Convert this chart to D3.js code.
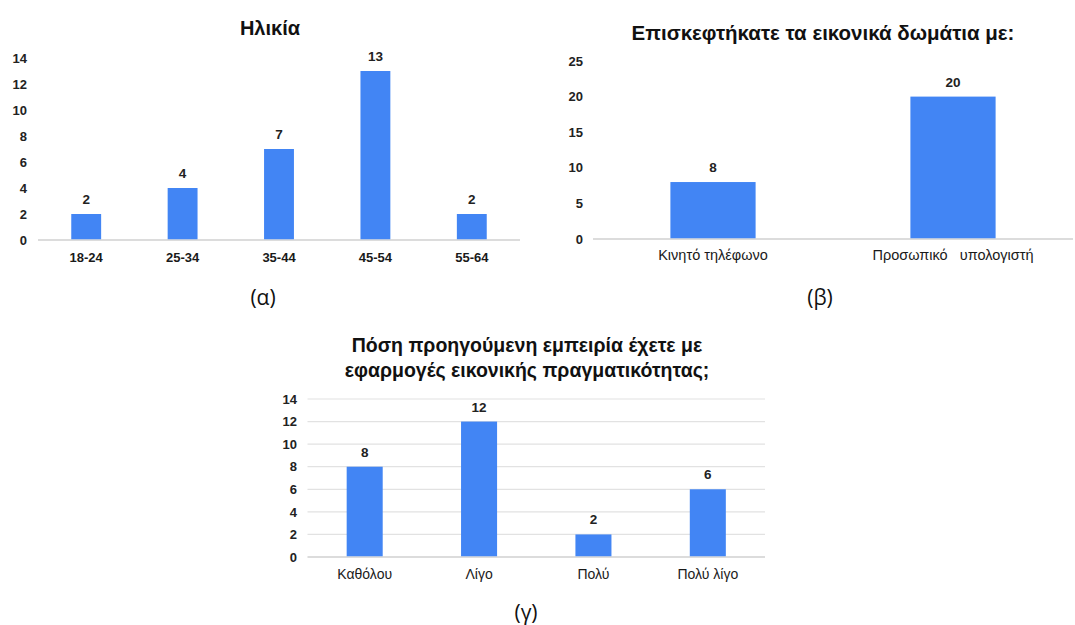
<!DOCTYPE html>
<html>
<head>
<meta charset="utf-8">
<script src="https://cdn.jsdelivr.net/npm/d3@7"></script>
<style>
  body { margin: 0; background: #fff; }
  svg { display: block; font-family: "Liberation Sans", Arial, sans-serif; }
  .caption { font-family: "Open Sans", "Noto Sans", sans-serif; }
</style>
</head>
<body>
<svg id="main" width="1075" height="625"></svg>
<script>
// chart (α)
let ageCats = ["18-24", "25-34", "35-44", "45-54", "55-64"];
let ageVals = [2, 4, 7, 13, 2];
let ageTicks = [0, 2, 4, 6, 8, 10, 12, 14];

// chart (β)
let deviceCats = ["Κινητό τηλέφωνο", "Προσωπικό   υπολογιστή"];
let deviceVals = [8, 20];
let deviceTicks = [0, 5, 10, 15, 20, 25];

// chart (γ)
let expCats = ["Καθόλου", "Λίγο", "Πολύ", "Πολύ λίγο"];
let expVals = [8, 12, 2, 6];
let expTicks = [0, 2, 4, 6, 8, 10, 12, 14];

const BAR = "#4285f4";
let svg = d3.select("#main");

let drawBars = function (o) {
  let g = svg.append("g");
  let x = d3.scaleBand()
    .domain(o.cats)
    .range(o.xr)
    .paddingInner(o.pad)
    .paddingOuter(o.pad / 2);
  let y = d3.scaleLinear()
    .domain([0, d3.max(o.ticks)])
    .range(o.yr);

  // gridlines (only some charts have them)
  if (o.grid) {
    g.selectAll(".grid")
      .data(o.ticks.filter(t => t > 0))
      .enter().append("line")
      .attr("x1", o.xr[0]).attr("x2", o.xr[1])
      .attr("y1", d => y(d)).attr("y2", d => y(d))
      .attr("stroke", "#e2e2e2").attr("stroke-width", 1.2);
  }

  // y tick labels
  let yAxis = d3.axisLeft(y).tickValues(o.ticks).tickSize(0).tickPadding(0);
  let ya = g.append("g")
    .attr("transform", "translate(" + o.tickX + ",0)")
    .call(yAxis);
  ya.select(".domain").remove();
  ya.selectAll("text")
    .style("font-family", "Liberation Sans, Arial, sans-serif")
    .style("font-size", "13px")
    .style("font-weight", "bold")
    .attr("fill", "#222");

  // baseline
  g.append("line")
    .attr("x1", o.xr[0]).attr("x2", o.xr[1])
    .attr("y1", y(0)).attr("y2", y(0))
    .attr("stroke", "#d0d0d0").attr("stroke-width", 1.5);

  let data = o.cats.map((c, i) => ({ cat: c, val: o.vals[i] }));

  g.selectAll(".bar")
    .data(data)
    .enter().append("rect")
    .attr("x", d => x(d.cat))
    .attr("y", d => y(d.val))
    .attr("width", x.bandwidth())
    .attr("height", d => y(0) - y(d.val) - 0.75)
    .attr("fill", BAR);

  g.selectAll(".val")
    .data(data)
    .enter().append("text")
    .attr("x", d => x(d.cat) + x.bandwidth() / 2)
    .attr("y", d => y(d.val) - 10)
    .attr("text-anchor", "middle")
    .style("font-size", "13.5px")
    .style("font-weight", "bold")
    .attr("fill", "#222")
    .text(d => d.val);

  // category labels
  g.selectAll(".cat")
    .data(data)
    .enter().append("text")
    .attr("x", d => x(d.cat) + x.bandwidth() / 2)
    .attr("y", o.catY)
    .attr("text-anchor", "middle")
    .style("font-size", o.catSize)
    .style("font-weight", o.catBold ? "bold" : "normal")
    .style("white-space", "pre")
    .attr("fill", "#1a1a1a")
    .text(d => d.cat);

  // title lines
  o.title.forEach((t, i) => {
    g.append("text")
      .attr("x", o.titleX)
      .attr("y", o.titleY + i * 25)
      .attr("text-anchor", "middle")
      .style("font-size", o.titleSize)
      .style("font-weight", "bold")
      .attr("fill", "#111")
      .text(t);
  });

  g.append("text")
    .attr("class", "caption")
    .attr("x", o.capX)
    .attr("y", o.capY)
    .attr("text-anchor", "middle")
    .style("font-size", "21px")
    .attr("fill", "#111")
    .text(o.caption);
};

drawBars({
  cats: ageCats, vals: ageVals, ticks: ageTicks,
  xr: [38, 520], yr: [240, 58], pad: 0.69, grid: false,
  tickX: 27, catY: 262, catBold: true, catSize: "13px",
  title: ["Ηλικία"], titleX: 270, titleY: 35, titleSize: "20px",
  caption: "(α)", capX: 263, capY: 305
});

drawBars({
  cats: deviceCats, vals: deviceVals, ticks: deviceTicks,
  xr: [593, 1073], yr: [239, 61], pad: 0.645, grid: false,
  tickX: 583, catY: 260, catBold: false, catSize: "14.5px",
  title: ["Επισκεφτήκατε τα εικονικά δωμάτια με:"], titleX: 823, titleY: 40, titleSize: "20.5px",
  caption: "(β)", capX: 820, capY: 305
});

drawBars({
  cats: expCats, vals: expVals, ticks: expTicks,
  xr: [307.5, 765], yr: [557, 399], pad: 0.685, grid: true,
  tickX: 297, catY: 579, catBold: false, catSize: "14px",
  title: ["Πόση προηγούμενη εμπειρία έχετε με", "εφαρμογές εικονικής πραγματικότητας;"],
  titleX: 527, titleY: 352, titleSize: "19.5px",
  caption: "(γ)", capX: 526, capY: 620
});
</script>
</body>
</html>
